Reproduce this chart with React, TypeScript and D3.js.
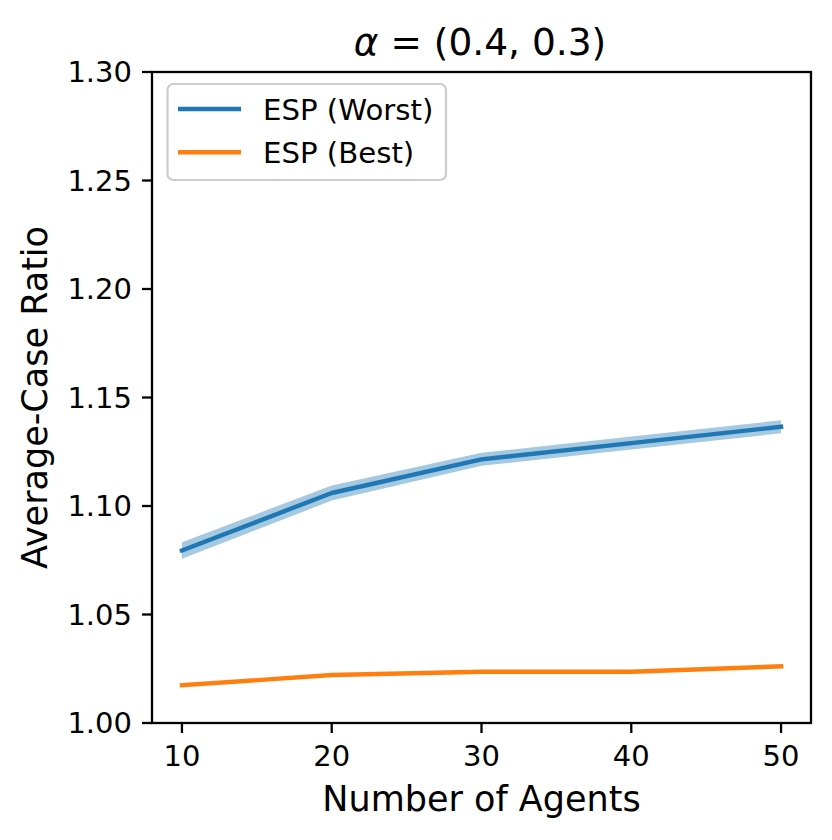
import { scaleLinear, line, area } from 'd3';

// values
const agents = [10, 20, 30, 40, 50];
const worstMean = [1.0795, 1.106, 1.1215, 1.129, 1.1365];
const worstSpread = [0.0038, 0.0035, 0.003, 0.003, 0.003];
const bestMean = [1.0174, 1.0221, 1.0236, 1.0236, 1.0261];
const bestSpread = [0.0005, 0.0005, 0.0005, 0.0005, 0.0005];
const xTicks = [10, 20, 30, 40, 50];
const yTicks = [1.0, 1.05, 1.1, 1.15, 1.2, 1.25, 1.3];
const seriesNames = ['ESP (Worst)', 'ESP (Best)'];
const colors = ['#1f77b4', '#ff7f0e'];

const W = 832;
const H = 840;
const left = 152, right = 811, top = 72, bottom = 723;
const font = 'DejaVu Sans, sans-serif';

export default function App() {
  const x = scaleLinear().domain([8, 52]).range([left, right]);
  const y = scaleLinear().domain([1.0, 1.3]).range([bottom, top]);

  const series = [
    { name: seriesNames[0], mean: worstMean, spread: worstSpread, color: colors[0] },
    { name: seriesNames[1], mean: bestMean, spread: bestSpread, color: colors[1] },
  ];

  const lineGen = line<number>()
    .x((_, i) => x(agents[i]))
    .y((d) => y(d));

  return (
    <svg width={W} height={H} style={{ position: 'absolute', left: 0, top: 0, background: '#fff' }}
      fontFamily={font}>
      <rect x={0} y={0} width={W} height={H} fill="#fff" />

      {series.map((s) => {
        const band = area<number>()
          .x((_, i) => x(agents[i]))
          .y0((d, i) => y(d - s.spread[i]))
          .y1((d, i) => y(d + s.spread[i]));
        return (
          <g key={s.name}>
            <path d={band(s.mean) || ''} fill={s.color} fillOpacity={0.4} />
            <path d={lineGen(s.mean) || ''} fill="none" stroke={s.color} strokeWidth={4.4}
              strokeLinejoin="round" strokeLinecap="square" />
          </g>
        );
      })}

      {/* spines */}
      <rect x={left} y={top} width={right - left} height={bottom - top} fill="none"
        stroke="#000" strokeWidth={2.3} />

      {/* y axis */}
      {yTicks.map((t) => (
        <g key={t}>
          <line x1={left - 10} x2={left} y1={y(t)} y2={y(t)} stroke="#000" strokeWidth={2.3} />
          <text x={left - 20} y={y(t)} dy="0.36em" textAnchor="end" fontSize={29}>{t.toFixed(2)}</text>
        </g>
      ))}

      {/* x axis */}
      {xTicks.map((t) => (
        <g key={t}>
          <line x1={x(t)} x2={x(t)} y1={bottom} y2={bottom + 10} stroke="#000" strokeWidth={2.3} />
          <text x={x(t)} y={766} textAnchor="middle" fontSize={29}>{t}</text>
        </g>
      ))}

      <text x={(left + right) / 2} y={811} textAnchor="middle" fontSize={35}>Number of Agents</text>
      <text transform={`translate(47,${(top + bottom) / 2}) rotate(-90)`} textAnchor="middle" fontSize={35}>
        Average-Case Ratio
      </text>

      <text x={480} y={55} textAnchor="middle" fontSize={37.5}>
        <tspan fontStyle="italic">α</tspan>
        <tspan> = (0.4, 0.3)</tspan>
      </text>

      {/* legend */}
      <rect x={167.5} y={84} width={278.5} height={96} rx={6} fill="#fff" fillOpacity={0.8}
        stroke="#cccccc" strokeWidth={2.2} />
      {series.map((s, i) => (
        <g key={s.name}>
          <line x1={178} x2={241} y1={109 + i * 43.3} y2={109 + i * 43.3} stroke={s.color} strokeWidth={4.4} />
          <text x={263} y={120 + i * 43} fontSize={29.2}>{s.name}</text>
        </g>
      ))}
    </svg>
  );
}
